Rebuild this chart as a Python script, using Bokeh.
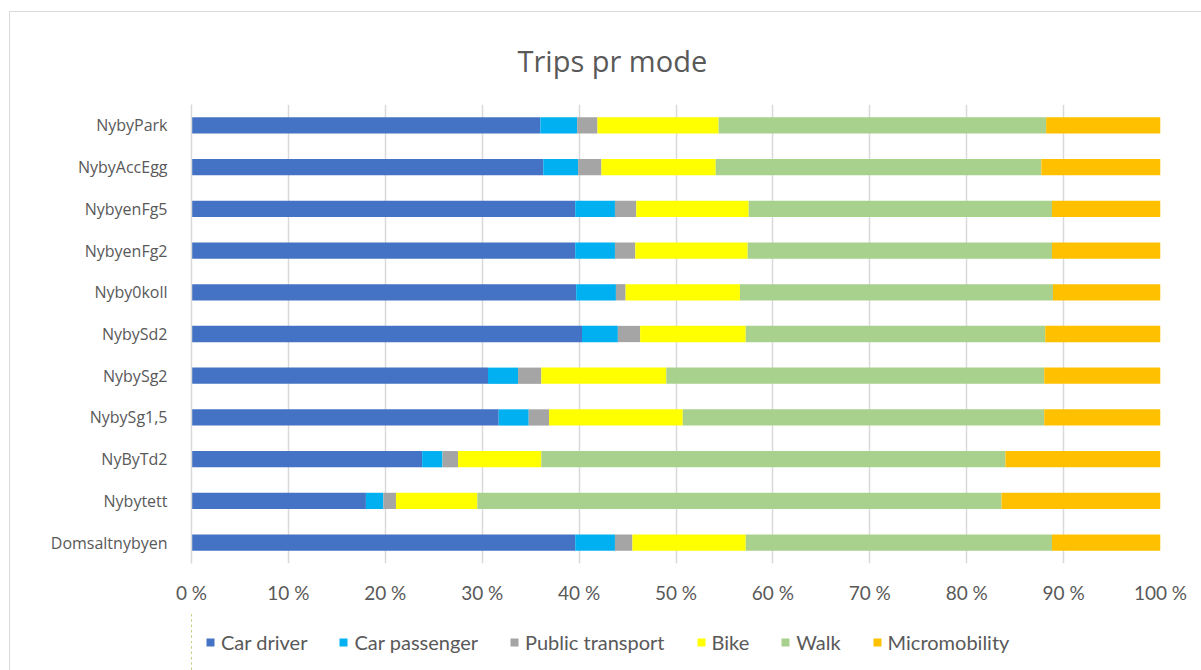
from bokeh.plotting import figure
from bokeh.layouts import column
from bokeh.models import ColumnDataSource, FixedTicker, PrintfTickFormatter, Legend, LegendItem, FactorRange, Range1d
from bokeh.embed import file_html
from bokeh.resources import INLINE

categories = ["NybyPark", "NybyAccEgg", "NybyenFg5", "NybyenFg2", "Nyby0koll", "NybySd2",
              "NybySg2", "NybySg1,5", "NyByTd2", "Nybytett", "Domsaltnybyen"]
modes = ["Car driver", "Car passenger", "Public transport", "Bike", "Walk", "Micromobility"]
car_driver = [36.0, 36.3, 39.6, 39.6, 39.7, 40.3, 30.6, 31.7, 23.8, 18.0, 39.6]
car_passenger = [3.8, 3.6, 4.1, 4.1, 4.1, 3.7, 3.1, 3.1, 2.1, 1.8, 4.1]
public_transport = [2.1, 2.4, 2.2, 2.1, 1.0, 2.3, 2.4, 2.1, 1.6, 1.3, 1.8]
bike = [12.5, 11.8, 11.6, 11.6, 11.8, 10.9, 12.9, 13.8, 8.6, 8.4, 11.7]
walk = [33.8, 33.6, 31.3, 31.4, 32.3, 30.9, 39.0, 37.3, 47.9, 54.1, 31.6]
micromobility = [11.8, 12.3, 11.2, 11.2, 11.1, 11.9, 12.0, 12.0, 16.0, 16.4, 11.2]
tick_values = [0, 10, 20, 30, 40, 50, 60, 70, 80, 90, 100]
colors = ["#4472C4", "#00B0F0", "#A5A5A5", "#FFFF00", "#A9D18E", "#FFC000"]

source = ColumnDataSource(dict(cat=categories, **{
    "Car driver": car_driver, "Car passenger": car_passenger,
    "Public transport": public_transport, "Bike": bike, "Walk": walk,
    "Micromobility": micromobility}))

p = figure(frame_width=968, frame_height=458, output_backend="svg", toolbar_location=None,
           y_range=FactorRange(factors=list(reversed(categories)), range_padding=0),
           x_range=Range1d(0, 100),
           min_border_left=181, min_border_right=43, min_border_top=92, min_border_bottom=50)
p.margin = (11, 0, 0, 9)
p.styles = {"border-top": "1.5px solid #d9d9d9", "border-left": "1.5px solid #d9d9d9"}

renderers = p.hbar_stack(modes, y="cat", height=0.39, color=colors, source=source, line_width=0)

p.title.text = "Trips pr mode"
p.title.align = "left"
p.title.text_font = "Open Sans"
p.title.text_font_size = "29px"
p.title.text_font_style = "normal"
p.title.text_color = "#595959"
p.title.offset = 326
p.title.standoff = 50

p.xaxis.ticker = FixedTicker(ticks=tick_values)
p.xaxis.formatter = PrintfTickFormatter(format="%d %%")
p.xaxis.axis_line_color = None
p.xaxis.major_tick_line_color = None
p.xaxis.minor_tick_line_color = None
p.xaxis.major_label_text_font = "Lato"
p.xaxis.major_label_text_font_size = "19px"
p.xaxis.major_label_text_color = "#595959"
p.xaxis.major_label_standoff = 11

p.yaxis.axis_line_color = "#d9d9d9"
p.yaxis.axis_line_width = 1.5
p.yaxis.major_tick_line_color = None
p.yaxis.minor_tick_line_color = None
p.yaxis.major_label_text_font = "Open Sans"
p.yaxis.major_label_text_font_size = "16px"
p.yaxis.major_label_text_color = "#595959"
p.yaxis.major_label_standoff = 18

p.xgrid.grid_line_color = "#d9d9d9"
p.xgrid.grid_line_width = 1.5
p.ygrid.grid_line_color = None
p.outline_line_color = None

# legend strip below the chart (its bars lie outside the visible x range)
q = figure(width=1192, height=59, output_backend="svg", toolbar_location=None,
           x_range=Range1d(200, 300), y_range=FactorRange(factors=categories),
           x_axis_type=None, y_axis_type=None, min_border=0)
q.margin = (0, 0, 0, 9)
q.styles = {"border-left": "1.5px solid #d9d9d9"}
q.grid.grid_line_color = None
q.outline_line_color = None
legend_renderers = q.hbar_stack(modes, y="cat", height=0.39, color=colors,
                                source=source, line_width=0)

legend = Legend(items=[LegendItem(label=m, renderers=[r]) for m, r in zip(modes, legend_renderers)],
                orientation="horizontal", location=(14, 17))
legend.label_text_font = "Lato"
legend.label_text_font_size = "20px"
legend.label_text_color = "#595959"
legend.glyph_width = 10
legend.glyph_height = 10
legend.label_standoff = 6
legend.spacing = 31
legend.border_line_color = None
legend.background_fill_alpha = 0
legend.padding = 0
legend.margin = 0
q.add_layout(legend, "center")

layout = column(p, q, spacing=0)
open("out.html", "w").write(file_html(layout, INLINE))
